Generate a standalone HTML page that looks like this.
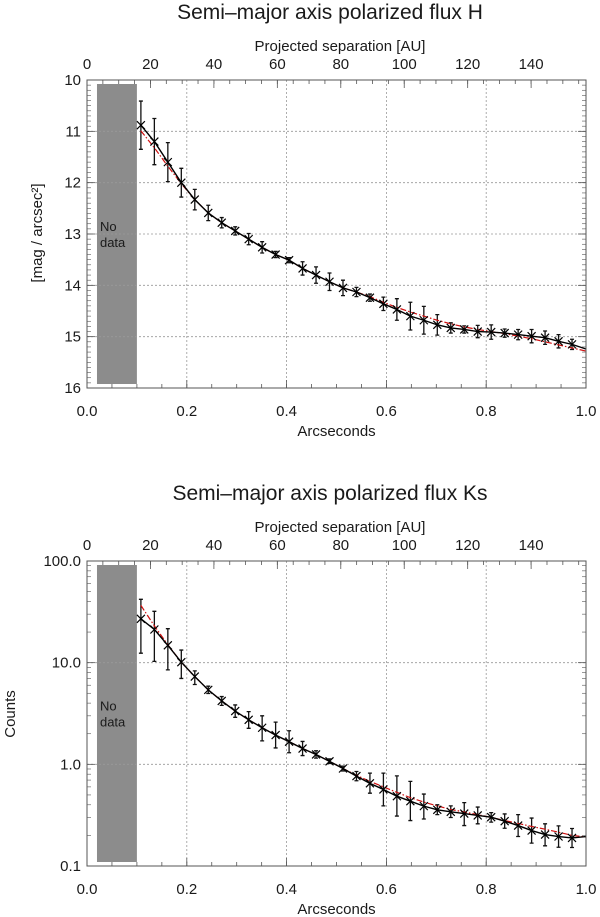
<!DOCTYPE html>
<html><head><meta charset="utf-8"><style>
html,body{margin:0;padding:0;background:#fff;}
svg{display:block;font-family:"Liberation Sans","DejaVu Sans",sans-serif;}
text{fill:#1a1a1a;}
</style></head><body>
<svg id="fig" width="600" height="917" viewBox="0 0 600 917" xmlns="http://www.w3.org/2000/svg"></svg>
<script>
// ---- shared data ----
const xArc = [0.108,0.135,0.162,0.189,0.216,0.243,0.270,0.297,0.324,0.351,0.378,0.405,0.432,0.459,0.486,0.513,0.540,0.567,0.594,0.621,0.648,0.675,0.702,0.729,0.756,0.783,0.810,0.837,0.864,0.891,0.918,0.945,0.972];
const xTicks = [0.0,0.2,0.4,0.6,0.8,1.0];
const xTickLabels = ["0.0","0.2","0.4","0.6","0.8","1.0"];
const auTicks = [0,20,40,60,80,100,120,140];
// ---- H band data ----
const hMag = [10.88,11.2,11.6,12.0,12.33,12.59,12.78,12.94,13.1,13.26,13.4,13.51,13.67,13.8,13.93,14.05,14.13,14.24,14.36,14.47,14.6,14.68,14.77,14.83,14.86,14.9,14.91,14.93,14.96,14.99,15.02,15.09,15.15];
const hErr = [0.47,0.45,0.38,0.28,0.2,0.15,0.1,0.08,0.11,0.11,0.06,0.05,0.13,0.16,0.17,0.15,0.09,0.07,0.13,0.21,0.27,0.27,0.2,0.1,0.07,0.12,0.14,0.08,0.1,0.13,0.13,0.13,0.1];
const hFit = [10.99,11.32,11.68,12.02,12.33,12.59,12.78,12.94,13.1,13.26,13.4,13.51,13.67,13.8,13.93,14.05,14.13,14.22,14.33,14.43,14.52,14.6,14.68,14.75,14.81,14.86,14.9,14.94,14.99,15.04,15.1,15.16,15.22];
const hEnd = [15.24,15.28];
const hYTicks = [10,11,12,13,14,15,16];
// ---- Ks band data ----
const kCounts = [27,21.2,14.8,10.1,7.3,5.4,4.2,3.34,2.74,2.29,1.94,1.67,1.43,1.25,1.07,0.91,0.766,0.65,0.566,0.486,0.434,0.388,0.357,0.341,0.328,0.314,0.302,0.276,0.25,0.223,0.204,0.195,0.189];
const kLo = [12.4,10.3,8.5,7.0,6.1,4.97,3.8,2.9,2.26,1.7,1.45,1.3,1.22,1.15,1.02,0.86,0.69,0.52,0.39,0.31,0.28,0.29,0.32,0.30,0.25,0.26,0.27,0.235,0.195,0.168,0.158,0.153,0.152];
const kHi = [42,32,21.6,13.3,8.3,5.87,4.64,3.84,3.3,3.0,2.6,2.14,1.68,1.36,1.13,0.96,0.85,0.82,0.82,0.77,0.68,0.51,0.40,0.39,0.42,0.38,0.335,0.325,0.32,0.296,0.26,0.248,0.234];
const kFit = [36.6,23,15,10.1,7.3,5.4,4.2,3.34,2.74,2.29,1.94,1.67,1.43,1.25,1.07,0.91,0.78,0.68,0.6,0.53,0.47,0.425,0.39,0.36,0.34,0.32,0.3,0.28,0.262,0.245,0.23,0.215,0.2];
const kEnd = [0.195,0.193];
const kYTicks = [0.1,1,10,100];
const kYTickLabels = ["0.1","1.0","10.0","100.0"];

const NS = "http://www.w3.org/2000/svg";
const fig = document.getElementById('fig');
function mk(tag, attrs, parent, txt){
  const e = document.createElementNS(NS, tag);
  for (const k in attrs) e.setAttribute(k, attrs[k]);
  if (txt !== undefined) e.textContent = txt;
  (parent||fig).appendChild(e);
  return e;
}
const L = 87, R = 586;
const AU_PER_ARC = 157.3;
function xs(v){ return L + (R - L) * v; }

function drawFrame(g, T, B, yScale, title, titleName){
  // title
  const t = mk('text',{x:330,y:T-61,'font-size':21,'text-anchor':'middle'},g,title);
  
  
  const p = mk('text',{x:340,y:T-29,'font-size':15,'text-anchor':'middle'},g,'Projected separation [AU]');
  
  
  // vertical grid
  xTicks.forEach((v,i)=>{
    if (i>0 && i<xTicks.length-1){
      const gl = mk('line',{x1:xs(v),x2:xs(v),y1:T,y2:B,stroke:'#999','stroke-width':0.8,'stroke-dasharray':'2,2'},g);
      
      
    }
    mk('line',{x1:xs(v),x2:xs(v),y1:B,y2:B-8,stroke:'#555','stroke-width':0.8},g);
    const tl = mk('text',{x:xs(v),y:B+28,'font-size':15,'text-anchor':'middle'},g,xTickLabels[i]);
    
    
  });
  for (let v=0.05; v<1; v+=0.05){ mk('line',{x1:xs(v),x2:xs(v),y1:B,y2:B-4,stroke:'#555','stroke-width':0.8},g); }
  const xt = mk('text',{x:xs(0.5),y:B+48,'font-size':15,'text-anchor':'middle'},g,'Arcseconds');
  
  
  // top AU axis
  auTicks.forEach(a=>{
    const x = xs(a/AU_PER_ARC);
    mk('line',{x1:x,x2:x,y1:T,y2:T+8,stroke:'#555','stroke-width':0.8},g);
    const tl = mk('text',{x:x,y:T-11,'font-size':15,'text-anchor':'middle'},g,String(a));
    
    
  });
  for (let a=5; a<157; a+=5){ const x=xs(a/AU_PER_ARC); mk('line',{x1:x,x2:x,y1:T,y2:T+4,stroke:'#555','stroke-width':0.8},g); }
  // no data box
  const nd = mk('rect',{x:xs(0.02),y:T+4,width:xs(0.1)-xs(0.02),height:B-T-8,fill:'#8c8c8c'},g);
  
  
  const mid=(T+B)/2;
  const n1 = mk('text',{x:xs(0.022)+2,y:mid-3,'font-size':13},g,'No');
  
  
  mk('text',{x:xs(0.022)+2,y:mid+13,'font-size':13},g,'data');
}
function drawSeries(g, yv, lo, hi, fit, endFit, endData, ys, nameP){
  // error bars
  xArc.forEach((x,i)=>{
    const X=xs(x), y1=ys(lo[i]), y2=ys(hi[i]);
    const eb = mk('path',{d:`M${X},${y1}V${y2}M${X-2},${y1}h4M${X-2},${y2}h4`,stroke:'#111','stroke-width':1.3,fill:'none'},g);
    
    
  });
  // fit
  let d = xArc.map((x,i)=>(i?'L':'M')+xs(x)+','+ys(fit[i])).join('') + 'L'+xs(1)+','+ys(endFit);
  const fl = mk('path',{d:d,stroke:'#d01010','stroke-width':1.2,fill:'none','stroke-dasharray':'6,2,1.5,2'},g);
  
  
  d = xArc.map((x,i)=>(i?'L':'M')+xs(x)+','+ys(yv[i])).join('') + 'L'+xs(1)+','+ys(endData);
  const dl = mk('path',{d:d,stroke:'#000','stroke-width':1.4,fill:'none'},g);
  
  
  xArc.forEach((x,i)=>{
    const X=xs(x), Y=ys(yv[i]);
    const m = mk('path',{d:`M${X-4},${Y-4}L${X+4},${Y+4}M${X-4},${Y+4}L${X+4},${Y-4}`,stroke:'#000','stroke-width':1.2},g);
    
    
  });
}

// ---------- Top chart (H) ----------
(function(){
  const T=80, B=388;
  const g = mk('g',{});
  
  
  const ys = v => T + (B-T)*(v-10)/6;
  drawFrame(g,T,B,ys,'Semi\u2013major axis polarized flux H','h-chart-title');
  hYTicks.forEach((v,i)=>{
    const y=ys(v);
    if (i>0 && i<hYTicks.length-1){
      const gl=mk('line',{x1:L,x2:R,y1:y,y2:y,stroke:'#999','stroke-width':0.8,'stroke-dasharray':'2,2'},g);
      
      
    }
    mk('line',{x1:L,x2:L+8,y1:y,y2:y,stroke:'#555','stroke-width':0.8},g);
    mk('line',{x1:R,x2:R-8,y1:y,y2:y,stroke:'#555','stroke-width':0.8},g);
    const tl=mk('text',{x:81,y:y+5,'font-size':15,'text-anchor':'end'},g,String(v));
    
    
  });
  for (let v=10.1; v<16; v+=0.1){ const y=ys(v); mk('line',{x1:L,x2:L+4,y1:y,y2:y,stroke:'#555','stroke-width':0.6},g); mk('line',{x1:R,x2:R-4,y1:y,y2:y,stroke:'#555','stroke-width':0.6},g); }
  const yt=mk('text',{x:0,y:0,'font-size':15,'text-anchor':'middle',transform:'translate(42,233) rotate(-90)'},g,'[mag / arcsec\u00b2]');
  
  
  const lo = hMag.map((v,i)=>v-hErr[i]), hi = hMag.map((v,i)=>v+hErr[i]);
  drawSeries(g,hMag,lo,hi,hFit,hEnd[1],hEnd[0],ys,'h');
  const fr=mk('rect',{x:L,y:T,width:R-L,height:B-T,fill:'none',stroke:'#555','stroke-width':1},g);
  
  
})();

// ---------- Bottom chart (Ks) ----------
(function(){
  const T=561, B=866;
  const g = mk('g',{});
  
  
  const ys = v => B - (B-T)*(Math.log10(v)+1)/3;
  drawFrame(g,T,B,ys,'Semi\u2013major axis polarized flux Ks','ks-chart-title');
  kYTicks.forEach((v,i)=>{
    const y=ys(v);
    if (i>0 && i<kYTicks.length-1){
      const gl=mk('line',{x1:L,x2:R,y1:y,y2:y,stroke:'#999','stroke-width':0.8,'stroke-dasharray':'2,2'},g);
      
      
    }
    mk('line',{x1:L,x2:L+8,y1:y,y2:y,stroke:'#555','stroke-width':0.8},g);
    mk('line',{x1:R,x2:R-8,y1:y,y2:y,stroke:'#555','stroke-width':0.8},g);
    const tl=mk('text',{x:81,y:y+5,'font-size':15,'text-anchor':'end'},g,kYTickLabels[i]);
    
    
  });
  [0.1,1,10].forEach(dec=>{ for(let k=2;k<=9;k++){ const y=ys(dec*k); mk('line',{x1:L,x2:L+4,y1:y,y2:y,stroke:'#555','stroke-width':0.6},g); mk('line',{x1:R,x2:R-4,y1:y,y2:y,stroke:'#555','stroke-width':0.6},g);} });
  const yt=mk('text',{x:0,y:0,'font-size':15,'text-anchor':'middle',transform:'translate(15,714) rotate(-90)'},g,'Counts');
  
  
  drawSeries(g,kCounts,kLo,kHi,kFit,kEnd[1],kEnd[0],ys,'ks');
  const fr=mk('rect',{x:L,y:T,width:R-L,height:B-T,fill:'none',stroke:'#555','stroke-width':1},g);
  
  
})();
</script>
</body></html>
